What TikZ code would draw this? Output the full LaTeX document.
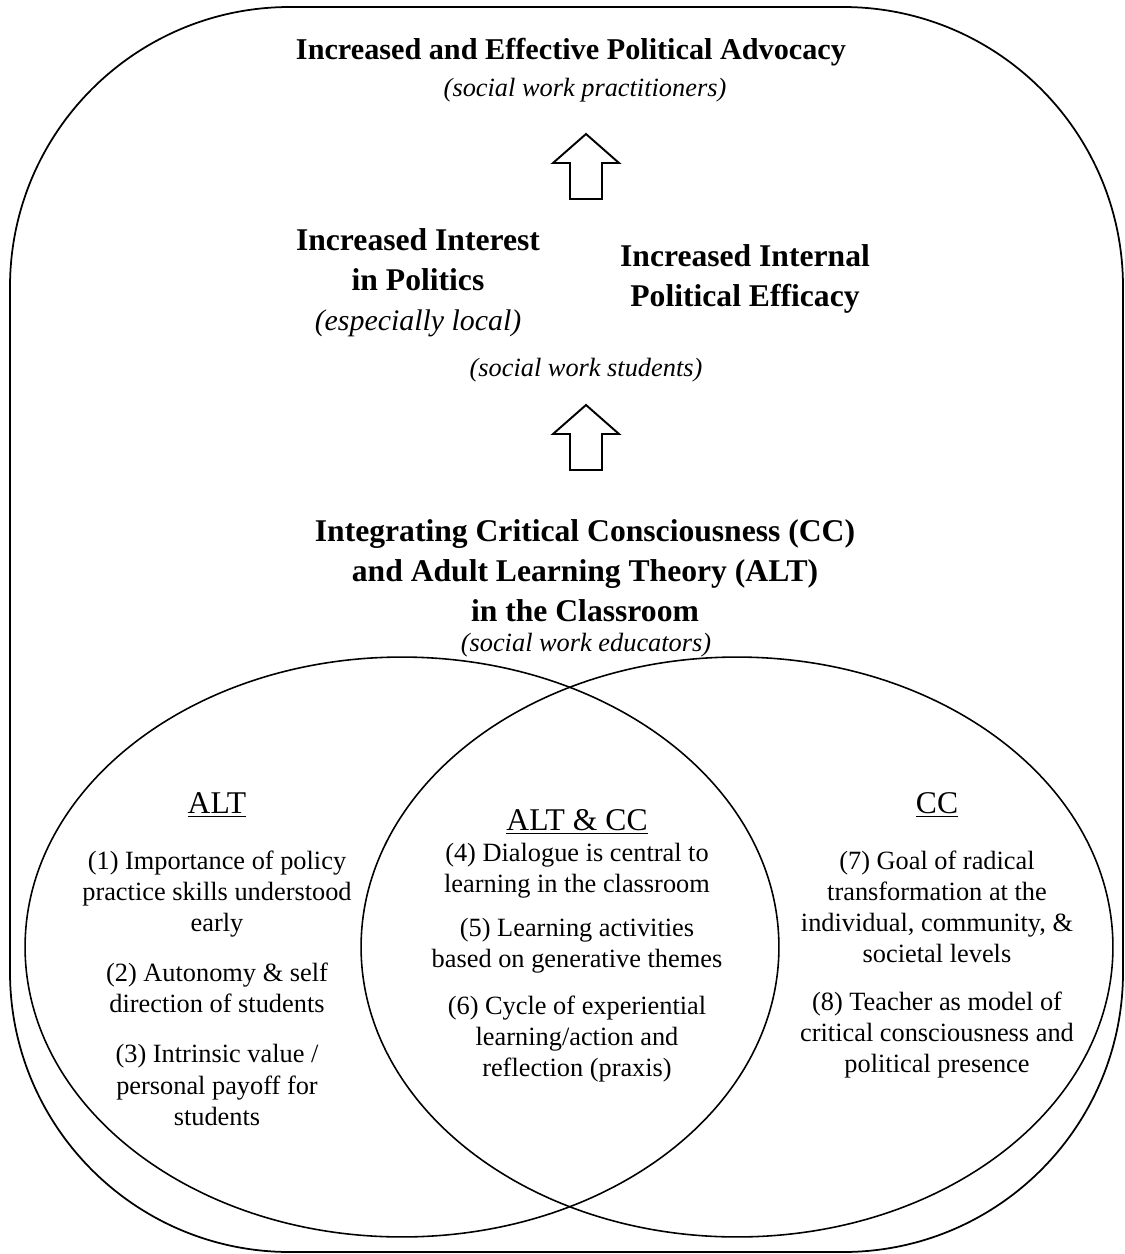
\documentclass[tikz,border=0pt]{standalone}
\usepackage{fontspec}
\setmainfont{Liberation Serif}
\usepackage{tikz}
\usetikzlibrary{shapes.geometric,positioning}

\tikzset{
  uparrow/.pic={
    \draw[line width=1.1pt, line join=miter]
      (0,-33) -- (33,-4) -- (16,-4) -- (16,32) -- (-16,32) -- (-16,-4) -- (-33,-4) -- cycle;
  }
}

\begin{document}
\begin{tikzpicture}[x=0.02cm, y=-0.02cm,
    boldtitle/.style={align=center, inner sep=0pt, font=\fontsize{18}{22.8}\selectfont\bfseries},
    who/.style={inner sep=0pt, font=\fontsize{15}{18}\selectfont\itshape},
    heading/.style={inner sep=0pt, font=\fontsize{18}{22}\selectfont},
    item/.style={align=center, inner sep=0pt, font=\fontsize{15}{17.7}\selectfont},
    circ/.style={draw, ellipse, line width=0.9pt, inner sep=0pt}]
        \useasboundingbox (0,0) rectangle (1125,1254);

        % outer frame
        \draw[line width=1pt, rounded corners=5.6cm] (10,7) rectangle (1123,1252);

        % 1. PRACTITIONERS (top)
        \node[boldtitle, font=\fontsize{17.2}{22.8}\selectfont\bfseries] (advocacy) at (571,52)
              {Increased and Effective Political Advocacy};
        \node[who] (practitioners) at (585,90) {(social work practitioners)};
        \pic at (586,167) {uparrow};

        % 2. STUDENTS
        \node[boldtitle] (interest) at (418,283) {Increased Interest\\in Politics\\
              {\fontsize{17}{22.8}\selectfont\mdseries\itshape (especially local)}};
        \node[boldtitle] (efficacy) at (745,279) {Increased Internal\\Political Efficacy};
        \node[who] (students) at (586,370) {(social work students)};
        \pic at (586,438) {uparrow};

        % 3. EDUCATORS
        \node[boldtitle] (integrating) at (585,571) {Integrating Critical Consciousness (CC)\\
              and Adult Learning Theory (ALT)\\in the Classroom};
        \node[who] (educators) at (586,645) {(social work educators)};

        % Venn circles
        \node[circ, minimum width=15.08cm, minimum height=11.6cm] (altcirc) at (402,947) {};
        \node[circ, minimum width=15.04cm, minimum height=11.6cm] (cccirc) at (737,947) {};

        % ALT only
        \node[heading] (alt) at (217,805) {\underline{ALT}};
        \node[item] (i1) at (217,894) {(1) Importance of policy\\practice skills understood\\early};
        \node[item] (i2) at (217,988) {(2) Autonomy \& self\\direction of students};
        \node[item] (i3) at (217,1085) {(3) Intrinsic value /\\personal payoff for\\students};

        % overlap
        \node[heading] (altcc) at (577,822) {\underline{ALT \& CC}};
        \node[item] (i4) at (577,871) {(4) Dialogue is central to\\learning in the classroom};
        \node[item] (i5) at (577,946) {(5) Learning activities\\based on generative themes};
        \node[item] (i6) at (577,1039) {(6) Cycle of experiential\\learning/action and\\reflection (praxis)};

        % CC only
        \node[heading] (cc) at (937,805) {\underline{CC}};
        \node[item] (i7) at (937,907) {(7) Goal of radical\\transformation at the\\individual, community, \&\\societal levels};
        \node[item] (i8) at (937,1035) {(8) Teacher as model of\\critical consciousness and\\political presence};

\end{tikzpicture}
\end{document}
